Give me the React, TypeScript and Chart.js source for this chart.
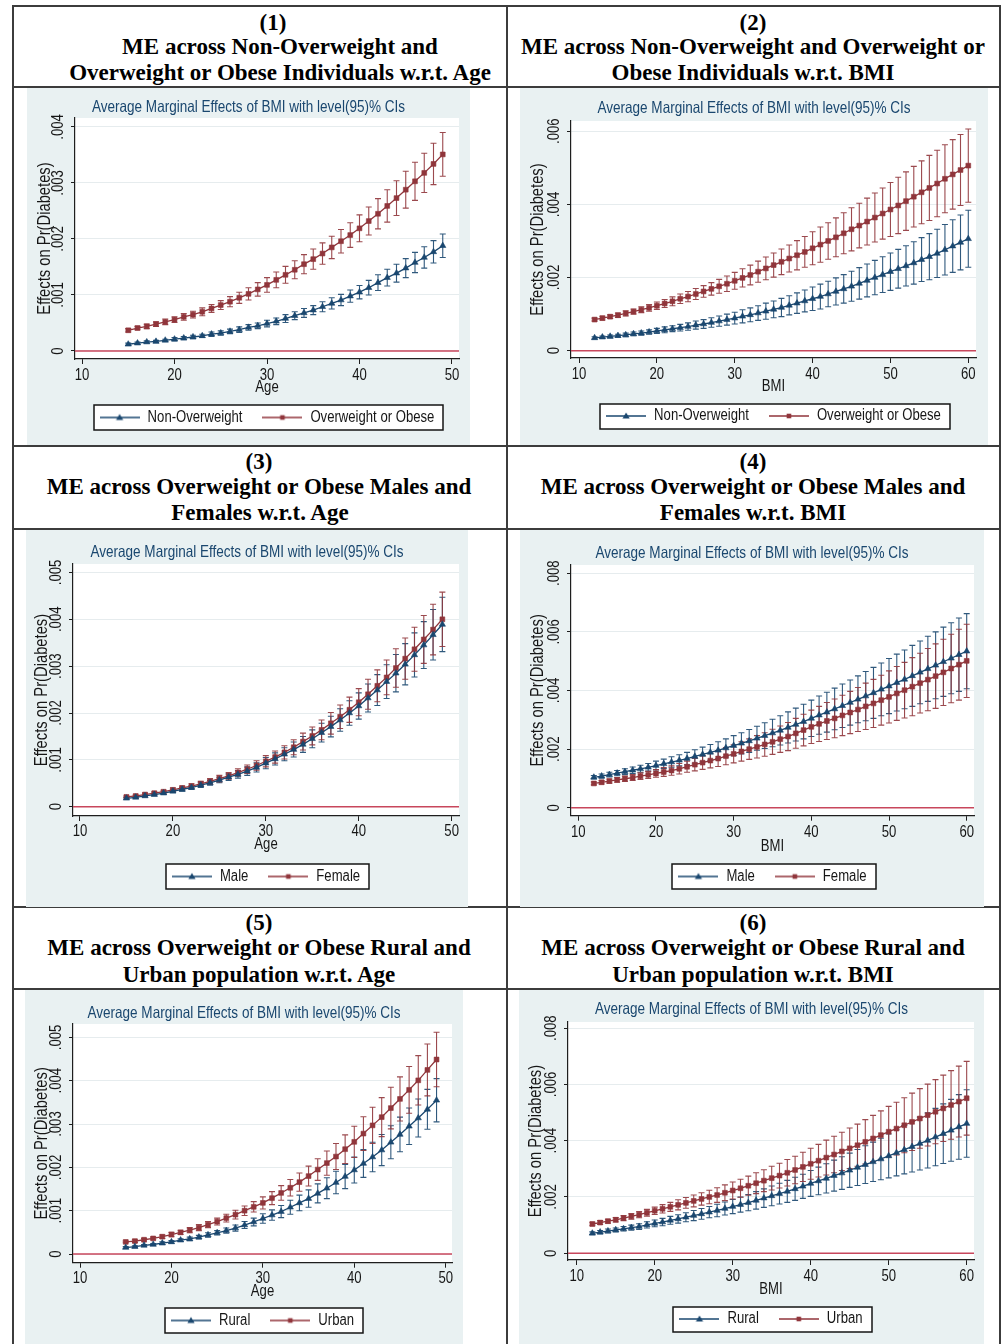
import React, { useEffect, useRef } from 'react';
import { Chart, registerables } from 'chart.js';

Chart.register(...registerables);

// ---------- categories ----------
const AGE_VALUES = [15, 16, 17, 18, 19, 20, 21, 22, 23, 24, 25, 26, 27, 28, 29, 30, 31, 32, 33, 34, 35, 36, 37, 38, 39, 40, 41, 42, 43, 44, 45, 46, 47, 48, 49];
const BMI_VALUES = [12, 13, 14, 15, 16, 17, 18, 19, 20, 21, 22, 23, 24, 25, 26, 27, 28, 29, 30, 31, 32, 33, 34, 35, 36, 37, 38, 39, 40, 41, 42, 43, 44, 45, 46, 47, 48, 49, 50, 51, 52, 53, 54, 55, 56, 57, 58, 59, 60];

// ---------- tick labels ----------
const AGE_TICKS = [10, 20, 30, 40, 50];
const BMI_TICKS = [10, 20, 30, 40, 50, 60];
const Y_TICKS_004 = [0, 0.001, 0.002, 0.003, 0.004];
const Y_TICKS_006 = [0, 0.002, 0.004, 0.006];
const Y_TICKS_005 = [0, 0.001, 0.002, 0.003, 0.004, 0.005];
const Y_TICKS_008 = [0, 0.002, 0.004, 0.006, 0.008];

// ---------- panel 1: age, non-overweight vs overweight ----------
const P1_NONOW = [0.00012, 0.00014, 0.00016, 0.00017, 0.00019, 0.00021, 0.00023, 0.00025, 0.00027, 0.00030, 0.00032, 0.00035, 0.00038, 0.00042, 0.00045, 0.00049, 0.00053, 0.00058, 0.00063, 0.00068, 0.00073, 0.00079, 0.00085, 0.00091, 0.00098, 0.00105, 0.00113, 0.00122, 0.00131, 0.00139, 0.00148, 0.00158, 0.00167, 0.00177, 0.00188];
const P1_NONOW_CI = [0.00002, 0.00002, 0.00002, 0.00002, 0.00002, 0.00003, 0.00003, 0.00003, 0.00003, 0.00004, 0.00004, 0.00004, 0.00005, 0.00005, 0.00005, 0.00006, 0.00006, 0.00007, 0.00007, 0.00008, 0.00008, 0.00009, 0.00010, 0.00010, 0.00011, 0.00012, 0.00013, 0.00014, 0.00015, 0.00016, 0.00017, 0.00018, 0.00019, 0.00020, 0.00021];
const P1_OW = [0.00037, 0.00041, 0.00044, 0.00048, 0.00052, 0.00056, 0.00061, 0.00065, 0.00070, 0.00076, 0.00082, 0.00088, 0.00095, 0.00102, 0.00110, 0.00118, 0.00127, 0.00136, 0.00145, 0.00155, 0.00164, 0.00174, 0.00185, 0.00196, 0.00207, 0.00219, 0.00232, 0.00245, 0.00259, 0.00273, 0.00288, 0.00303, 0.00318, 0.00334, 0.00351];
const P1_OW_CI = [0.00003, 0.00003, 0.00004, 0.00004, 0.00005, 0.00005, 0.00006, 0.00006, 0.00007, 0.00007, 0.00008, 0.00009, 0.00010, 0.00011, 0.00012, 0.00013, 0.00014, 0.00015, 0.00016, 0.00017, 0.00018, 0.00019, 0.00020, 0.00021, 0.00022, 0.00024, 0.00025, 0.00027, 0.00029, 0.00031, 0.00033, 0.00034, 0.00035, 0.00037, 0.00039];

// ---------- panel 2: BMI, non-overweight vs overweight ----------
const P2_NONOW = [0.00035, 0.00037, 0.00039, 0.00041, 0.00043, 0.00046, 0.00048, 0.00051, 0.00054, 0.00057, 0.00060, 0.00063, 0.00066, 0.00070, 0.00073, 0.00077, 0.00081, 0.00085, 0.00089, 0.00094, 0.00098, 0.00103, 0.00108, 0.00113, 0.00118, 0.00124, 0.00130, 0.00136, 0.00142, 0.00148, 0.00155, 0.00162, 0.00169, 0.00176, 0.00184, 0.00192, 0.00200, 0.00208, 0.00216, 0.00224, 0.00232, 0.00240, 0.00249, 0.00257, 0.00266, 0.00276, 0.00286, 0.00296, 0.00306];
const P2_NONOW_CI = [0.00003, 0.00003, 0.00004, 0.00004, 0.00005, 0.00005, 0.00006, 0.00006, 0.00007, 0.00008, 0.00008, 0.00009, 0.00010, 0.00011, 0.00012, 0.00013, 0.00014, 0.00015, 0.00016, 0.00018, 0.00019, 0.00020, 0.00022, 0.00023, 0.00025, 0.00026, 0.00028, 0.00030, 0.00032, 0.00034, 0.00035, 0.00037, 0.00039, 0.00041, 0.00043, 0.00045, 0.00047, 0.00049, 0.00051, 0.00053, 0.00055, 0.00058, 0.00060, 0.00063, 0.00066, 0.00069, 0.00072, 0.00075, 0.00078];
const P2_OW = [0.00085, 0.00089, 0.00093, 0.00097, 0.00102, 0.00107, 0.00112, 0.00117, 0.00123, 0.00129, 0.00135, 0.00142, 0.00148, 0.00155, 0.00162, 0.00169, 0.00176, 0.00183, 0.00191, 0.00199, 0.00207, 0.00216, 0.00225, 0.00234, 0.00243, 0.00252, 0.00261, 0.00270, 0.00280, 0.00290, 0.00300, 0.00310, 0.00321, 0.00332, 0.00342, 0.00353, 0.00364, 0.00375, 0.00386, 0.00397, 0.00409, 0.00421, 0.00433, 0.00445, 0.00457, 0.00470, 0.00482, 0.00494, 0.00506];
const P2_OW_CI = [0.00004, 0.00005, 0.00005, 0.00006, 0.00007, 0.00007, 0.00008, 0.00009, 0.00010, 0.00011, 0.00012, 0.00013, 0.00014, 0.00015, 0.00016, 0.00017, 0.00019, 0.00021, 0.00023, 0.00025, 0.00027, 0.00029, 0.00031, 0.00033, 0.00035, 0.00037, 0.00040, 0.00042, 0.00045, 0.00048, 0.00050, 0.00053, 0.00056, 0.00059, 0.00061, 0.00064, 0.00067, 0.00070, 0.00074, 0.00077, 0.00080, 0.00083, 0.00086, 0.00089, 0.00091, 0.00093, 0.00095, 0.00097, 0.00100];

// ---------- panel 3: age, male vs female ----------
const P3_MALE = [0.00018, 0.00020, 0.00023, 0.00026, 0.00029, 0.00033, 0.00037, 0.00041, 0.00046, 0.00051, 0.00057, 0.00063, 0.00069, 0.00076, 0.00084, 0.00093, 0.00102, 0.00112, 0.00122, 0.00133, 0.00145, 0.00158, 0.00171, 0.00185, 0.00200, 0.00215, 0.00232, 0.00249, 0.00267, 0.00285, 0.00304, 0.00324, 0.00345, 0.00367, 0.00389];
const P3_MALE_CI = [0.00002, 0.00002, 0.00002, 0.00003, 0.00003, 0.00003, 0.00004, 0.00004, 0.00005, 0.00005, 0.00006, 0.00007, 0.00008, 0.00009, 0.00010, 0.00012, 0.00013, 0.00014, 0.00016, 0.00017, 0.00019, 0.00020, 0.00022, 0.00024, 0.00026, 0.00028, 0.00030, 0.00033, 0.00036, 0.00040, 0.00044, 0.00047, 0.00050, 0.00054, 0.00058];
const P3_FEMALE = [0.00021, 0.00023, 0.00026, 0.00029, 0.00032, 0.00036, 0.00040, 0.00044, 0.00049, 0.00054, 0.00060, 0.00066, 0.00073, 0.00080, 0.00088, 0.00097, 0.00106, 0.00116, 0.00127, 0.00139, 0.00151, 0.00164, 0.00178, 0.00192, 0.00207, 0.00223, 0.00240, 0.00258, 0.00276, 0.00296, 0.00316, 0.00336, 0.00357, 0.00378, 0.00400];
const P3_FEMALE_CI = [0.00002, 0.00002, 0.00003, 0.00003, 0.00003, 0.00004, 0.00004, 0.00005, 0.00005, 0.00006, 0.00007, 0.00007, 0.00008, 0.00009, 0.00010, 0.00012, 0.00013, 0.00014, 0.00016, 0.00018, 0.00019, 0.00021, 0.00023, 0.00025, 0.00027, 0.00029, 0.00032, 0.00034, 0.00037, 0.00041, 0.00044, 0.00047, 0.00051, 0.00054, 0.00058];

// ---------- panel 4: BMI, male vs female ----------
const P4_MALE = [0.00104, 0.00108, 0.00113, 0.00118, 0.00123, 0.00128, 0.00133, 0.00138, 0.00144, 0.00150, 0.00156, 0.00162, 0.00168, 0.00175, 0.00182, 0.00189, 0.00196, 0.00204, 0.00212, 0.00220, 0.00228, 0.00237, 0.00246, 0.00255, 0.00264, 0.00274, 0.00284, 0.00294, 0.00305, 0.00316, 0.00326, 0.00337, 0.00348, 0.00359, 0.00370, 0.00381, 0.00392, 0.00404, 0.00415, 0.00427, 0.00438, 0.00450, 0.00462, 0.00474, 0.00486, 0.00498, 0.00510, 0.00522, 0.00534];
const P4_MALE_CI = [0.00006, 0.00007, 0.00008, 0.00009, 0.00010, 0.00011, 0.00012, 0.00013, 0.00015, 0.00016, 0.00018, 0.00019, 0.00021, 0.00023, 0.00025, 0.00027, 0.00029, 0.00031, 0.00034, 0.00036, 0.00039, 0.00041, 0.00044, 0.00047, 0.00050, 0.00053, 0.00056, 0.00059, 0.00062, 0.00065, 0.00068, 0.00071, 0.00074, 0.00077, 0.00080, 0.00084, 0.00087, 0.00090, 0.00094, 0.00097, 0.00100, 0.00104, 0.00107, 0.00111, 0.00114, 0.00118, 0.00121, 0.00125, 0.00128];
const P4_FEMALE = [0.00083, 0.00087, 0.00091, 0.00095, 0.00099, 0.00103, 0.00108, 0.00112, 0.00117, 0.00122, 0.00127, 0.00133, 0.00140, 0.00147, 0.00154, 0.00161, 0.00168, 0.00176, 0.00184, 0.00192, 0.00200, 0.00208, 0.00216, 0.00225, 0.00234, 0.00243, 0.00254, 0.00265, 0.00276, 0.00286, 0.00296, 0.00305, 0.00315, 0.00325, 0.00335, 0.00346, 0.00356, 0.00367, 0.00378, 0.00390, 0.00401, 0.00413, 0.00425, 0.00437, 0.00449, 0.00462, 0.00475, 0.00488, 0.00501];
const P4_FEMALE_CI = [0.00005, 0.00006, 0.00007, 0.00008, 0.00009, 0.00010, 0.00011, 0.00012, 0.00013, 0.00015, 0.00016, 0.00018, 0.00019, 0.00021, 0.00023, 0.00025, 0.00027, 0.00029, 0.00031, 0.00033, 0.00035, 0.00038, 0.00040, 0.00043, 0.00045, 0.00048, 0.00051, 0.00054, 0.00057, 0.00060, 0.00063, 0.00066, 0.00069, 0.00072, 0.00075, 0.00079, 0.00082, 0.00085, 0.00089, 0.00092, 0.00095, 0.00099, 0.00102, 0.00106, 0.00110, 0.00113, 0.00117, 0.00121, 0.00125];

// ---------- panel 5: age, rural vs urban ----------
const P5_RURAL = [0.00015, 0.00017, 0.00020, 0.00022, 0.00025, 0.00028, 0.00032, 0.00035, 0.00039, 0.00044, 0.00049, 0.00054, 0.00060, 0.00067, 0.00074, 0.00082, 0.00090, 0.00098, 0.00108, 0.00118, 0.00128, 0.00140, 0.00152, 0.00165, 0.00179, 0.00194, 0.00209, 0.00224, 0.00240, 0.00258, 0.00276, 0.00295, 0.00314, 0.00334, 0.00355];
const P5_RURAL_CI = [0.00002, 0.00002, 0.00002, 0.00002, 0.00003, 0.00003, 0.00003, 0.00004, 0.00004, 0.00005, 0.00005, 0.00006, 0.00007, 0.00008, 0.00009, 0.00011, 0.00012, 0.00014, 0.00016, 0.00018, 0.00020, 0.00022, 0.00024, 0.00026, 0.00028, 0.00030, 0.00032, 0.00034, 0.00036, 0.00038, 0.00040, 0.00042, 0.00044, 0.00046, 0.00050];
const P5_URBAN = [0.00028, 0.00030, 0.00033, 0.00036, 0.00040, 0.00045, 0.00050, 0.00055, 0.00061, 0.00068, 0.00075, 0.00083, 0.00091, 0.00100, 0.00109, 0.00118, 0.00129, 0.00141, 0.00153, 0.00166, 0.00180, 0.00195, 0.00210, 0.00225, 0.00242, 0.00259, 0.00278, 0.00297, 0.00316, 0.00337, 0.00358, 0.00379, 0.00401, 0.00425, 0.00449];
const P5_URBAN_CI = [0.00002, 0.00003, 0.00003, 0.00003, 0.00004, 0.00005, 0.00005, 0.00006, 0.00007, 0.00007, 0.00008, 0.00009, 0.00010, 0.00011, 0.00012, 0.00014, 0.00015, 0.00017, 0.00019, 0.00021, 0.00023, 0.00025, 0.00028, 0.00030, 0.00033, 0.00036, 0.00039, 0.00042, 0.00045, 0.00048, 0.00051, 0.00054, 0.00057, 0.00060, 0.00063];

// ---------- panel 6: BMI, rural vs urban ----------
const P6_RURAL = [0.00071, 0.00075, 0.00079, 0.00083, 0.00087, 0.00091, 0.00095, 0.00101, 0.00106, 0.00111, 0.00117, 0.00122, 0.00128, 0.00134, 0.00140, 0.00146, 0.00152, 0.00159, 0.00166, 0.00173, 0.00180, 0.00188, 0.00196, 0.00204, 0.00212, 0.00220, 0.00229, 0.00238, 0.00248, 0.00257, 0.00266, 0.00276, 0.00285, 0.00295, 0.00305, 0.00315, 0.00325, 0.00335, 0.00346, 0.00357, 0.00368, 0.00379, 0.00390, 0.00401, 0.00413, 0.00425, 0.00437, 0.00449, 0.00461];
const P6_RURAL_CI = [0.00005, 0.00006, 0.00007, 0.00007, 0.00008, 0.00009, 0.00010, 0.00011, 0.00012, 0.00013, 0.00014, 0.00015, 0.00016, 0.00018, 0.00019, 0.00020, 0.00022, 0.00023, 0.00025, 0.00027, 0.00029, 0.00031, 0.00033, 0.00035, 0.00037, 0.00039, 0.00041, 0.00043, 0.00046, 0.00049, 0.00052, 0.00055, 0.00058, 0.00061, 0.00064, 0.00067, 0.00070, 0.00074, 0.00078, 0.00082, 0.00086, 0.00090, 0.00094, 0.00098, 0.00102, 0.00106, 0.00110, 0.00115, 0.00120];
const P6_URBAN = [0.00104, 0.00109, 0.00114, 0.00119, 0.00125, 0.00131, 0.00137, 0.00144, 0.00151, 0.00158, 0.00165, 0.00172, 0.00179, 0.00186, 0.00193, 0.00200, 0.00207, 0.00215, 0.00223, 0.00231, 0.00240, 0.00249, 0.00258, 0.00267, 0.00276, 0.00286, 0.00296, 0.00307, 0.00318, 0.00329, 0.00340, 0.00351, 0.00362, 0.00373, 0.00384, 0.00396, 0.00408, 0.00420, 0.00432, 0.00443, 0.00455, 0.00467, 0.00479, 0.00491, 0.00503, 0.00515, 0.00527, 0.00539, 0.00551];
const P6_URBAN_CI = [0.00006, 0.00007, 0.00007, 0.00008, 0.00009, 0.00010, 0.00011, 0.00012, 0.00013, 0.00015, 0.00016, 0.00018, 0.00019, 0.00021, 0.00022, 0.00024, 0.00026, 0.00028, 0.00030, 0.00032, 0.00034, 0.00037, 0.00039, 0.00042, 0.00044, 0.00047, 0.00049, 0.00052, 0.00055, 0.00058, 0.00062, 0.00065, 0.00068, 0.00072, 0.00075, 0.00079, 0.00082, 0.00086, 0.00090, 0.00094, 0.00098, 0.00102, 0.00106, 0.00110, 0.00114, 0.00118, 0.00122, 0.00126, 0.00131];

// ---------- texts ----------
const CHART_TITLE = 'Average Marginal Effects of BMI with level(95)% CIs';
const Y_TITLE = 'Effects on Pr(Diabetes)';
const HEADER_LINES = [
  { text: '(1)', cx: 273, cy: 23 },
  { text: 'ME across Non-Overweight and', cx: 280, cy: 47 },
  { text: 'Overweight or Obese Individuals w.r.t. Age', cx: 280, cy: 73 },
  { text: '(2)', cx: 753, cy: 23 },
  { text: 'ME across Non-Overweight and Overweight or', cx: 753, cy: 47 },
  { text: 'Obese Individuals w.r.t. BMI', cx: 753, cy: 73 },
  { text: '(3)', cx: 259, cy: 462 },
  { text: 'ME across Overweight or Obese Males and', cx: 259, cy: 487 },
  { text: 'Females w.r.t. Age', cx: 260, cy: 513 },
  { text: '(4)', cx: 753, cy: 462 },
  { text: 'ME across Overweight or Obese Males and', cx: 753, cy: 487 },
  { text: 'Females w.r.t. BMI', cx: 753, cy: 513 },
  { text: '(5)', cx: 259, cy: 923 },
  { text: 'ME across Overweight or Obese Rural and', cx: 259, cy: 948 },
  { text: 'Urban population w.r.t. Age', cx: 259, cy: 975 },
  { text: '(6)', cx: 753, cy: 923 },
  { text: 'ME across Overweight or Obese Rural and', cx: 753, cy: 948 },
  { text: 'Urban population w.r.t. BMI', cx: 753, cy: 975 },
];

// ---------- styles ----------
const NAVY = '#1a476f';
const MAROON = '#90353b';
const ZERO_COLOR = '#c8475c';
const GRID_COLOR = '#e6ecee';
const AXIS_COLOR = '#1e1e1e';
const TEXT_COLOR = '#161616';
const PANEL_BG = '#e9f1f2';
const TABLE_LINE = '#3c3c3c';
const SANS = "'Liberation Sans', Arial, sans-serif";
const NARROW_SCALE = 0.82; // Arial Narrow ≈ 82% of Arial width
const SERIF = "'Liberation Serif', 'Times New Roman', serif";

const H_LINES = [6, 87, 446, 529, 907, 989];
const V_LINES = [13, 507, 1000];

type Series = { label: string; values: number[]; ci: number[]; color: string; marker: 'triangle' | 'rect' };
type Geom = {
  bg: [number, number, number, number];
  area: [number, number, number, number]; // L R T B
  titleY: number; xTickY: number; xTitleY: number; legendY: number; yTitleX: number;
};
type PanelDef = {
  id: number; xs: number[]; xTitle: string; xTicks: number[]; yTicks: number[];
  xRange: [number, number]; yRange: [number, number]; series: Series[]; geom: Geom;
};

const PANELS: PanelDef[] = [
  {
    id: 1, xs: AGE_VALUES, xTitle: 'Age', xTicks: AGE_TICKS, yTicks: Y_TICKS_004,
    xRange: [9.243, 50.757], yRange: [-0.000143, 0.00416],
    series: [
      { label: 'Non-Overweight', values: P1_NONOW, ci: P1_NONOW_CI, color: NAVY, marker: 'triangle' },
      { label: 'Overweight or Obese', values: P1_OW, ci: P1_OW_CI, color: MAROON, marker: 'rect' },
    ],
    geom: { bg: [27, 88, 470, 445], area: [75, 459, 118, 359], titleY: 107, xTickY: 376, xTitleY: 388, legendY: 417.5, yTitleX: 45 },
  },
  {
    id: 2, xs: BMI_VALUES, xTitle: 'BMI', xTicks: BMI_TICKS, yTicks: Y_TICKS_006,
    xRange: [8.97, 60.99], yRange: [-0.0002, 0.00628],
    series: [
      { label: 'Non-Overweight', values: P2_NONOW, ci: P2_NONOW_CI, color: NAVY, marker: 'triangle' },
      { label: 'Overweight or Obese', values: P2_OW, ci: P2_OW_CI, color: MAROON, marker: 'rect' },
    ],
    geom: { bg: [520, 88, 988, 445], area: [571, 976, 121, 358], titleY: 108, xTickY: 375, xTitleY: 387, legendY: 416, yTitleX: 538 },
  },
  {
    id: 3, xs: AGE_VALUES, xTitle: 'Age', xTicks: AGE_TICKS, yTicks: Y_TICKS_005,
    xRange: [9.25, 50.79], yRange: [-0.000198, 0.00518],
    series: [
      { label: 'Male', values: P3_MALE, ci: P3_MALE_CI, color: NAVY, marker: 'triangle' },
      { label: 'Female', values: P3_FEMALE, ci: P3_FEMALE_CI, color: MAROON, marker: 'rect' },
    ],
    geom: { bg: [26, 530, 468, 907], area: [73, 459, 564, 816], titleY: 552, xTickY: 832, xTitleY: 845, legendY: 876.5, yTitleX: 42 },
  },
  {
    id: 4, xs: BMI_VALUES, xTitle: 'BMI', xTicks: BMI_TICKS, yTicks: Y_TICKS_008,
    xRange: [9.06, 60.94], yRange: [-0.00027, 0.00828],
    series: [
      { label: 'Male', values: P4_MALE, ci: P4_MALE_CI, color: NAVY, marker: 'triangle' },
      { label: 'Female', values: P4_FEMALE, ci: P4_FEMALE_CI, color: MAROON, marker: 'rect' },
    ],
    geom: { bg: [520, 530, 984, 907], area: [571, 974, 565, 815.7], titleY: 553, xTickY: 833, xTitleY: 847, legendY: 876.5, yTitleX: 538 },
  },
  {
    id: 5, xs: AGE_VALUES, xTitle: 'Age', xTicks: AGE_TICKS, yTicks: Y_TICKS_005,
    xRange: [9.23, 50.69], yRange: [-0.0002, 0.00531],
    series: [
      { label: 'Rural', values: P5_RURAL, ci: P5_RURAL_CI, color: NAVY, marker: 'triangle' },
      { label: 'Urban', values: P5_URBAN, ci: P5_URBAN_CI, color: MAROON, marker: 'rect' },
    ],
    geom: { bg: [25, 990, 463, 1344], area: [73, 452, 1024, 1262.7], titleY: 1013, xTickY: 1279, xTitleY: 1292, legendY: 1320.5, yTitleX: 42 },
  },
  {
    id: 6, xs: BMI_VALUES, xTitle: 'BMI', xTicks: BMI_TICKS, yTicks: Y_TICKS_008,
    xRange: [8.88, 60.94], yRange: [-0.00024, 0.00822],
    series: [
      { label: 'Rural', values: P6_RURAL, ci: P6_RURAL_CI, color: NAVY, marker: 'triangle' },
      { label: 'Urban', values: P6_URBAN, ci: P6_URBAN_CI, color: MAROON, marker: 'rect' },
    ],
    geom: { bg: [519, 990, 984, 1344], area: [568, 974, 1022, 1260], titleY: 1009, xTickY: 1277, xTitleY: 1290, legendY: 1319, yTitleX: 536 },
  },
];

function fmtY(v: number): string {
  if (Math.abs(v) < 1e-12) return '0';
  return '.' + v.toFixed(3).split('.')[1];
}

// make the canvas text narrow (Stata/Arial Narrow look) by scaling glyphs horizontally
function narrowText(c2d: any) {
  if (!c2d || c2d.__narrow) return;
  const origFill = c2d.fillText.bind(c2d);
  const origMeasure = c2d.measureText.bind(c2d);
  c2d.fillText = (text: string, x: number, y: number, maxWidth?: number) => {
    c2d.save();
    c2d.translate(x, y);
    c2d.scale(NARROW_SCALE, 1);
    if (maxWidth !== undefined && maxWidth !== null) origFill(text, 0, 0, maxWidth / NARROW_SCALE);
    else origFill(text, 0, 0);
    c2d.restore();
  };
  c2d.measureText = (text: string) => {
    const m = origMeasure(text);
    return {
      width: m.width * NARROW_SCALE,
      actualBoundingBoxLeft: m.actualBoundingBoxLeft * NARROW_SCALE,
      actualBoundingBoxRight: m.actualBoundingBoxRight * NARROW_SCALE,
      actualBoundingBoxAscent: m.actualBoundingBoxAscent,
      actualBoundingBoxDescent: m.actualBoundingBoxDescent,
      fontBoundingBoxAscent: m.fontBoundingBoxAscent,
      fontBoundingBoxDescent: m.fontBoundingBoxDescent,
    };
  };
  c2d.__narrow = true;
}

function legendIcon(color: string, marker: 'triangle' | 'rect'): HTMLCanvasElement {
  const c = document.createElement('canvas');
  c.width = 40;
  c.height = 10;
  const g = c.getContext('2d')!;
  g.strokeStyle = color;
  g.lineWidth = 1.3;
  g.beginPath();
  g.moveTo(0, 5);
  g.lineTo(40, 5);
  g.stroke();
  g.fillStyle = color;
  g.beginPath();
  if (marker === 'triangle') {
    g.moveTo(20, 1.4);
    g.lineTo(23.6, 7.6);
    g.lineTo(16.4, 7.6);
    g.closePath();
  } else {
    g.rect(17.7, 2.7, 4.6, 4.6);
  }
  g.fill();
  return c;
}

const stataPlugin = {
  id: 'stataDecor',
  beforeDraw(chart: any) {
    const { ctx, chartArea } = chart;
    ctx.save();
    ctx.fillStyle = '#ffffff';
    ctx.fillRect(chartArea.left, chartArea.top, chartArea.right - chartArea.left, chartArea.bottom - chartArea.top);
    const lg = chart.legend;
    if (lg && lg.legendHitBoxes && lg.legendHitBoxes.length) {
      const hb = lg.legendHitBoxes;
      const first = hb[0];
      const last = hb[hb.length - 1];
      const cy = first.top + first.height / 2;
      const left = Math.round(first.left - 6);
      const right = Math.round(last.left + last.width + 9);
      const top = Math.round(cy - 12.5);
      const h = 25;
      ctx.fillStyle = '#ffffff';
      ctx.fillRect(left, top, right - left, h);
      ctx.strokeStyle = '#151515';
      ctx.lineWidth = 1.5;
      ctx.strokeRect(left, top, right - left, h);
    }
    ctx.restore();
  },
  beforeDatasetsDraw(chart: any) {
    const { ctx, chartArea } = chart;
    const xs = chart.scales.x;
    const ys = chart.scales.y;
    ctx.save();
    const y0 = ys.getPixelForValue(0);
    ctx.strokeStyle = ZERO_COLOR;
    ctx.lineWidth = 1.5;
    ctx.beginPath();
    ctx.moveTo(chartArea.left, y0);
    ctx.lineTo(chartArea.right, y0);
    ctx.stroke();
    chart.data.datasets.forEach((ds: any) => {
      const m: number[] | undefined = ds.errorMargins;
      if (!m) return;
      ctx.strokeStyle = ds.borderColor;
      ctx.globalAlpha = 0.9;
      ctx.lineWidth = 1.1;
      ds.data.forEach((pt: any, i: number) => {
        const px = xs.getPixelForValue(pt.x);
        const lo = ys.getPixelForValue(pt.y - m[i]);
        const hi = ys.getPixelForValue(pt.y + m[i]);
        ctx.beginPath();
        ctx.moveTo(px, lo);
        ctx.lineTo(px, hi);
        ctx.moveTo(px - 3, lo);
        ctx.lineTo(px + 3, lo);
        ctx.moveTo(px - 3, hi);
        ctx.lineTo(px + 3, hi);
        ctx.stroke();
      });
    });
    ctx.restore();
  },
};

function Panel({ p }: { p: PanelDef }) {
  const ref = useRef<HTMLCanvasElement | null>(null);
  const g = p.geom;
  const [bgL, bgT, bgR, bgB] = g.bg;
  const W = bgR - bgL;
  const H = bgB - bgT;

  useEffect(() => {
    const canvas = ref.current as HTMLCanvasElement;
    narrowText(canvas.getContext('2d'));
    const [L, R, T, B] = g.area;
    const pr = bgR - R;
    const pl = pr;
    const yw = (L - bgL) - pl;
    const titleLH = 16.5 * 1.2;
    const tPadTop = (g.titleY - bgT) - titleLH / 2;
    const tPadBottom = (T - bgT) - tPadTop - titleLH;
    const legRel = g.legendY - bgT;
    const pb = H - 18 - legRel;
    const hx = legRel - 28 - (B - bgT);
    const xTickPad = (g.xTickY - B) - 5 - 9.6;
    const xTitlePadBottom = (B + hx) - g.xTitleY - 9.6;
    const yTitlePadTop = (g.yTitleX - bgL) - pl - 10.8;

    const icons = p.series.map((s) => legendIcon(s.color, s.marker));

    const datasets: any[] = p.series.map((s) => ({
      type: 'line',
      label: s.label,
      data: p.xs.map((x, i) => ({ x, y: s.values[i] })),
      errorMargins: s.ci,
      borderColor: s.color,
      backgroundColor: s.color,
      borderWidth: 1.3,
      tension: 0,
      fill: false,
      pointStyle: s.marker,
      pointRadius: s.marker === 'triangle' ? 3.6 : 3.4,
      pointBackgroundColor: s.color,
      pointBorderColor: s.color,
      pointBorderWidth: 0.6,
    }));

    const chart = new Chart(canvas, {
      type: 'line',
      data: { datasets },
      plugins: [stataPlugin],
      options: {
        responsive: false,
        animation: false,
        devicePixelRatio: 1,
        events: [],
        layout: { padding: { left: pl, right: pr, top: 0, bottom: pb } },
        plugins: {
          tooltip: { enabled: false },
          title: {
            display: true,
            text: CHART_TITLE,
            color: NAVY,
            font: { family: SANS, size: 16.5, weight: 'normal' },
            padding: { top: tPadTop, bottom: tPadBottom },
          },
          legend: {
            display: true,
            position: 'bottom',
            fullSize: false,
            labels: {
              usePointStyle: true,
              pointStyleWidth: 40,
              boxHeight: 10,
              padding: 20,
              color: TEXT_COLOR,
              font: { family: SANS, size: 16 },
              generateLabels: () =>
                p.series.map((s, i) => ({
                  text: s.label,
                  pointStyle: icons[i],
                  fillStyle: s.color,
                  strokeStyle: s.color,
                  lineWidth: 0,
                  hidden: false,
                  datasetIndex: i,
                  fontColor: TEXT_COLOR,
                })),
            },
          },
        },
        scales: {
          x: {
            type: 'linear',
            min: p.xRange[0],
            max: p.xRange[1],
            afterBuildTicks: (scale: any) => {
              scale.ticks = p.xTicks.map((v) => ({ value: v }));
            },
            afterFit: (scale: any) => {
              scale.height = hx;
            },
            ticks: {
              autoSkip: false,
              maxRotation: 0,
              minRotation: 0,
              padding: xTickPad,
              color: TEXT_COLOR,
              font: { family: SANS, size: 16 },
              callback: (v: any) => String(v),
            },
            grid: { display: true, drawOnChartArea: false, drawTicks: true, tickLength: 5, tickColor: AXIS_COLOR, tickWidth: 1 },
            border: { display: true, color: AXIS_COLOR, width: 1.2 },
            title: {
              display: true,
              text: p.xTitle,
              color: TEXT_COLOR,
              font: { family: SANS, size: 16 },
              padding: { top: 0, bottom: xTitlePadBottom },
            },
          },
          y: {
            type: 'linear',
            min: p.yRange[0],
            max: p.yRange[1],
            afterBuildTicks: (scale: any) => {
              scale.ticks = p.yTicks.map((v) => ({ value: v }));
            },
            afterFit: (scale: any) => {
              scale.width = yw;
            },
            ticks: {
              autoSkip: false,
              minRotation: 90,
              maxRotation: 90,
              crossAlign: 'center',
              padding: 0,
              color: TEXT_COLOR,
              font: { family: SANS, size: 16 },
              callback: (v: any) => fmtY(Number(v)),
            },
            grid: { display: true, drawOnChartArea: true, color: GRID_COLOR, lineWidth: 1, drawTicks: true, tickLength: 4, tickColor: AXIS_COLOR, tickWidth: 1 },
            border: { display: true, color: AXIS_COLOR, width: 1.2 },
            title: {
              display: true,
              text: Y_TITLE,
              color: TEXT_COLOR,
              font: { family: SANS, size: 18 },
              padding: { top: yTitlePadTop, bottom: 0 },
            },
          },
        },
      } as any,
    } as any);
    return () => chart.destroy();
  }, []);

  return (
    <canvas
      ref={ref}
      width={W}
      height={H}
      style={{ position: 'absolute', left: bgL, top: bgT, width: W, height: H, display: 'block', background: PANEL_BG }}
    />
  );
}

export default function App() {
  return (
    <div style={{ position: 'absolute', left: 0, top: 0, width: 1007, height: 1344, background: '#ffffff', overflow: 'hidden' }}>
      {H_LINES.map((y) => (
        <div key={'h' + y} style={{ position: 'absolute', left: 12, top: y - 1, width: 989, height: 2, background: TABLE_LINE }} />
      ))}
      {V_LINES.map((x) => (
        <div key={'v' + x} style={{ position: 'absolute', left: x - 1, top: 5, width: 2, height: 1344, background: TABLE_LINE }} />
      ))}
      {HEADER_LINES.map((h, i) => (
        <div
          key={'t' + i}
          style={{
            position: 'absolute',
            left: h.cx - 300,
            top: h.cy - 13,
            width: 600,
            height: 26,
            lineHeight: '26px',
            textAlign: 'center',
            whiteSpace: 'nowrap',
            fontFamily: SERIF,
            fontWeight: 'bold',
            fontSize: 23,
            color: '#000',
          }}
        >
          {h.text}
        </div>
      ))}
      {PANELS.map((p) => (
        <Panel key={p.id} p={p} />
      ))}
    </div>
  );
}
